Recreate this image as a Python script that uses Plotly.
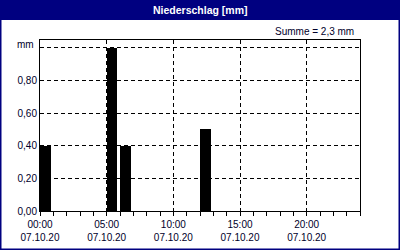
import plotly.graph_objects as go

times = ["2020-10-07 00:00", "2020-10-07 05:00", "2020-10-07 06:00", "2020-10-07 12:00"]
values = [0.4, 1.0, 0.4, 0.5]
ytickvals = [0.0, 0.2, 0.4, 0.6, 0.8]
yticktext = ["0,00", "0,20", "0,40", "0,60", "0,80"]
title = "Niederschlag [mm]"
summe = "Summe = 2,3 mm"
unit = "mm"

W, H = 400, 250
FONT = "Liberation Sans"
NAVY = "#000080"

def px(x):
    return x / W

def py(y):
    return 1 - y / H

fig = go.Figure()
fig.add_trace(go.Bar(
    x=times, y=values,
    width=[0.8 * 3600000] * len(times), offset=0,
    marker=dict(color="black", line=dict(width=0)),
))

grid = dict(showgrid=True, gridcolor="black", gridwidth=1, griddash="4px,3px")

fig.update_layout(
    width=W, height=H,
    margin=dict(l=0, r=0, t=0, b=0),
    paper_bgcolor="white", plot_bgcolor="white",
    showlegend=False,
    bargap=0,
    font=dict(family=FONT, size=10, color="#00002a"),
    xaxis=dict(
        type="date",
        domain=[px(40), px(360)],
        range=["2020-10-07 00:00", "2020-10-08 00:00"],
        tick0="2020-10-07 00:00", dtick=5 * 3600000,
        tickformat="%H:%M<br>%d.%m.%y",
        ticks="outside", ticklen=4, tickcolor="black",
        showline=True, linecolor="black", linewidth=1, mirror=True,
        minor=dict(dtick=3600000, ticks="outside", ticklen=4, tickcolor="black", showgrid=False),
        automargin=False, zeroline=False,
        tickfont=dict(size=10),
        **grid,
    ),
    yaxis=dict(
        domain=[py(211), py(40)],
        range=[0, 1.047],
        tickvals=ytickvals + [1.0], ticktext=yticktext + [""],
        ticks="", ticklen=0,
        showline=True, linecolor="black", linewidth=1, mirror=True,
        automargin=False, zeroline=False,
        tickfont=dict(size=10),
        **grid,
    ),
    shapes=[
        dict(type="rect", xref="paper", yref="paper", x0=0, x1=1, y0=py(20), y1=1,
             fillcolor=NAVY, line=dict(width=0), layer="below"),
        dict(type="rect", xref="paper", yref="paper", x0=px(0.75), x1=px(399.25), y0=py(249.25), y1=py(0.75),
             fillcolor="rgba(0,0,0,0)", line=dict(color=NAVY, width=1.5), layer="above"),
    ],
    annotations=[
        dict(text=f"<b>{title}</b>", xref="paper", yref="paper", x=0.5, y=py(10),
             showarrow=False, xanchor="center", yanchor="middle",
             font=dict(color="white", size=10.5, family=FONT)),
        dict(text=summe, xref="paper", yref="paper", x=px(356), y=py(31),
             showarrow=False, xanchor="right", yanchor="middle",
             font=dict(size=10, family=FONT)),
        dict(text=unit, xref="paper", yref="paper", x=px(36), y=py(44.5),
             showarrow=False, xanchor="right", yanchor="middle",
             font=dict(size=10, family=FONT)),
    ],
)

fig.write_html("out.html")
